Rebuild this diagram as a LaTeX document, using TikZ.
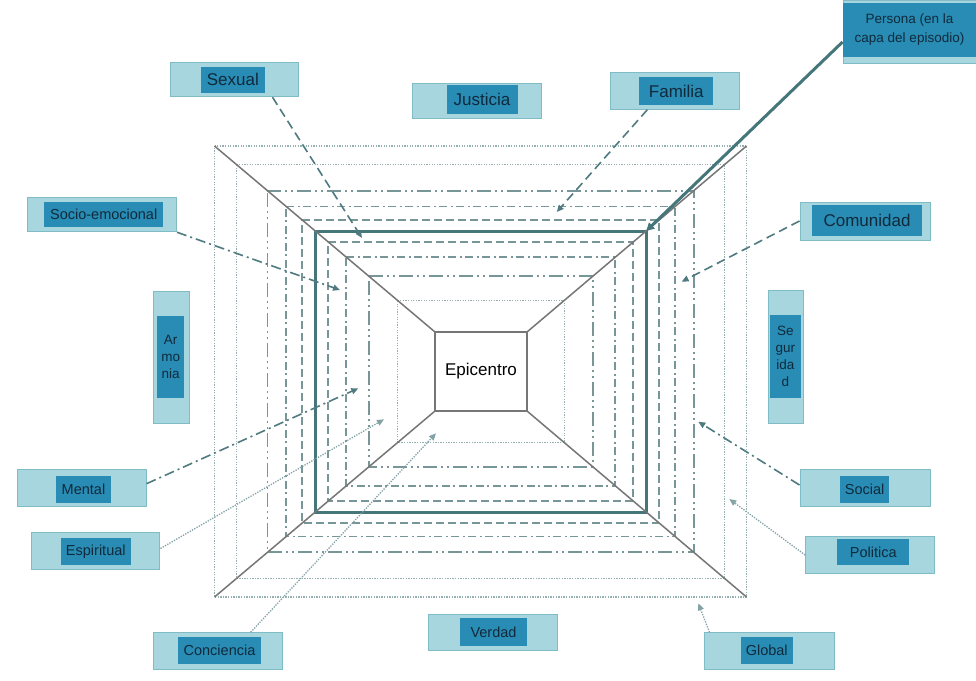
\documentclass[tikz,border=0pt]{standalone}
\usepackage{fontspec}
\setmainfont{Liberation Sans}
\usetikzlibrary{calc,arrows.meta}

\definecolor{lbllight}{RGB}{168,214,222}
\definecolor{lbledge}{RGB}{128,188,198}
\definecolor{lbldark}{RGB}{40,140,180}
\definecolor{lbltext}{RGB}{16,42,60}
\definecolor{dashcol}{RGB}{120,150,152}
\definecolor{dotcol}{RGB}{150,176,178}
\definecolor{tealcol}{RGB}{68,118,122}
\definecolor{diagcol}{RGB}{118,118,118}
\definecolor{arrowcol}{RGB}{78,122,128}

% one layer of the nested frame, its corners on the four diagonals
\newcommand\layer[2]{\draw[#2] ($(O1)!#1!(I1)$) -- ($(O2)!#1!(I2)$) -- ($(O3)!#1!(I3)$) -- ($(O4)!#1!(I4)$) -- cycle;}
% label: light outer box with a darker inner box carrying the text
\newcommand\labelpair[9]{%
  \node[lblout, minimum width=#3pt, minimum height=#4pt] (#1box) at (#2) {};
  \node[lblin, minimum width=#6pt, minimum height=#7pt, #8] (#1) at (#5) {#9};}

\begin{document}
\begin{tikzpicture}[x=1pt,y=-1pt,
  lblout/.style={rectangle, draw=lbledge, fill=lbllight, line width=1pt, inner sep=0pt},
  lblin/.style={rectangle, fill=lbldark, inner sep=0pt, text=lbltext, align=center},
  bigtxt/.style={font=\fontsize{17}{20}\selectfont},
  smalltxt/.style={font=\fontsize{14.5}{17}\selectfont},
  perstxt/.style={font=\fontsize{13.5}{19}\selectfont},
  verttxt/.style={font=\fontsize{13.5}{17}\selectfont},
  layerdot/.style={draw=dotcol, line width=1.4pt, dash pattern=on 1.3pt off 1.3pt},
  layerdash/.style={draw=dashcol, line width=1.8pt, dash pattern=on 8pt off 4pt},
  layerdashdot/.style={draw=dashcol, line width=1.8pt, dash pattern=on 8pt off 3.5pt on 2pt off 3.5pt},
  layerlong/.style={draw=dashcol, line width=1.8pt, dash pattern=on 14pt off 4pt on 2pt off 4pt on 2pt off 4pt},
  layerteal/.style={draw=tealcol, line width=3pt},
  diag/.style={draw=diagcol, line width=1.5pt},
  tip/.style={-{Triangle[length=7pt,width=6pt]}},
  condash/.style={tip, draw=arrowcol, line width=1.6pt, dash pattern=on 9pt off 5pt},
  condashdot/.style={tip, draw=arrowcol, line width=1.6pt, dash pattern=on 10pt off 4pt on 2pt off 4pt},
  condot/.style={tip, draw=arrowcol!70, line width=1.3pt, dash pattern=on 1.3pt off 1.3pt},
  persline/.style={draw=tealcol, line width=3pt, -{Triangle[length=8pt,width=8pt]}}
]
\useasboundingbox (0,0) rectangle (976,680);
\fill[white] (0,0) rectangle (976,680);

% outer frame corners and epicentre corners
\coordinate (O1) at (214.5,146);
\coordinate (O2) at (746.5,146);
\coordinate (O3) at (746.5,597);
\coordinate (O4) at (214.5,597);
\coordinate (I1) at (435,332);
\coordinate (I2) at (527,332);
\coordinate (I3) at (527,411);
\coordinate (I4) at (435,411);

% nested layers, outermost first
\layer{0}{layerdot}
\layer{0.1}{layerdot}
\layer{0.24}{layerlong}
\layer{0.325}{layerdashdot}
\layer{0.397}{layerdash}
\layer{0.457}{layerteal}
\layer{0.516}{layerdash}
\layer{0.598}{layerdashdot}
\layer{0.7}{layerlong}
\layer{0.83}{layerdot}

% diagonals
\draw[diag] (O1) -- (I1);
\draw[diag] (O2) -- (I2);
\draw[diag] (O3) -- (I3);
\draw[diag] (O4) -- (I4);

% centre
\node[draw=diagcol, line width=1.5pt, fill=white, minimum width=92pt, minimum height=79pt,
      inner sep=0pt, font=\fontsize{17}{20}\selectfont] (epi) at (481,371.5) {Epicentro};

% labels
\labelpair{sexual}{234,79.7}{128}{34}{232.8,79.7}{64}{26}{bigtxt}{Sexual}
\labelpair{justicia}{477.2,100.8}{129}{35}{482,99.5}{71}{29}{bigtxt}{Justicia}
\labelpair{familia}{675.3,91}{129}{36.5}{676.3,91.2}{74}{28}{bigtxt}{Familia}
\labelpair{persona}{911.5,31.5}{137}{63}{909.5,30}{133}{54}{perstxt}{Persona (en la\\capa del episodio)}
\labelpair{comunidad}{865,221}{130}{38}{867,220.5}{110}{31}{bigtxt}{Comunidad}
\labelpair{socio}{102,214.5}{149}{34.5}{103.7,214.2}{119}{25}{smalltxt}{Socio-emocional}
\labelpair{armonia}{171.3,357.5}{36}{131.5}{170.7,357.2}{26.7}{82}{verttxt}{Ar\\mo\\nia}
\labelpair{seguridad}{785.8,356.7}{35}{133}{785.3,356.7}{30.7}{83}{verttxt}{Se\\gur\\ida\\d}
\labelpair{mental}{81.7,487.7}{128.7}{36.7}{83.5,489.3}{55}{26.7}{smalltxt}{Mental}
\labelpair{espiritual}{95.8,551}{128.3}{36.6}{95.8,551.7}{69.7}{26.7}{smalltxt}{Espiritual}
\labelpair{conciencia}{218,651}{129.4}{36.6}{219.5,650.7}{82.4}{26.7}{smalltxt}{Conciencia}
\labelpair{verdad}{492.5,632}{129}{36}{493.5,632}{67}{28}{smalltxt}{Verdad}
\labelpair{social}{865,487.7}{130}{36.7}{864.7,489.3}{49.3}{26.7}{smalltxt}{Social}
\labelpair{politica}{870.3,555}{129.3}{36.6}{873.2,552.2}{71.7}{25.7}{smalltxt}{Politica}
\labelpair{global}{769,651}{130}{36.6}{766.7,650.7}{52}{26.7}{smalltxt}{Global}

% arrow targets inside the frame
\coordinate (pcorner) at ($(O2)!0.457!(I2)$);
\coordinate (tsex) at (362,238);
\coordinate (tfam) at (556.7,212);
\coordinate (tcom) at (681.7,281.7);
\coordinate (tsoc) at (340,290);
\coordinate (tmen) at (358.3,388.3);
\coordinate (tesp) at (384,419.3);
\coordinate (tcon) at (436,433.3);
\coordinate (tsocial) at (698.3,421.7);
\coordinate (tpol) at (729.3,499);
\coordinate (tglo) at (698.3,603.3);

% connectors
\draw[persline] ($(personabox.west)+(0,10.5)$) -- (pcorner);
\draw[condash] ($(sexualbox.south east)+(-26,0)$) -- (tsex);
\draw[condash] ($(familiabox.south)+(-28,0)$) -- (tfam);
\draw[condash] (comunidadbox.west) -- (tcom);
\draw[condashdot] (sociobox.south east) -- (tsoc);
\draw[condashdot] ($(mentalbox.east)+(0,-4)$) -- (tmen);
\draw[condot] ($(espiritualbox.east)+(0,-2.5)$) -- (tesp);
\draw[condot] ($(concienciabox.north)+(32.7,0)$) -- (tcon);
\draw[condashdot] ($(socialbox.west)+(0,-2.7)$) -- (tsocial);
\draw[condot] (politicabox.west) -- (tpol);
\draw[condot] ($(globalbox.north west)+(6,0)$) -- (tglo);
\end{tikzpicture}
\end{document}
